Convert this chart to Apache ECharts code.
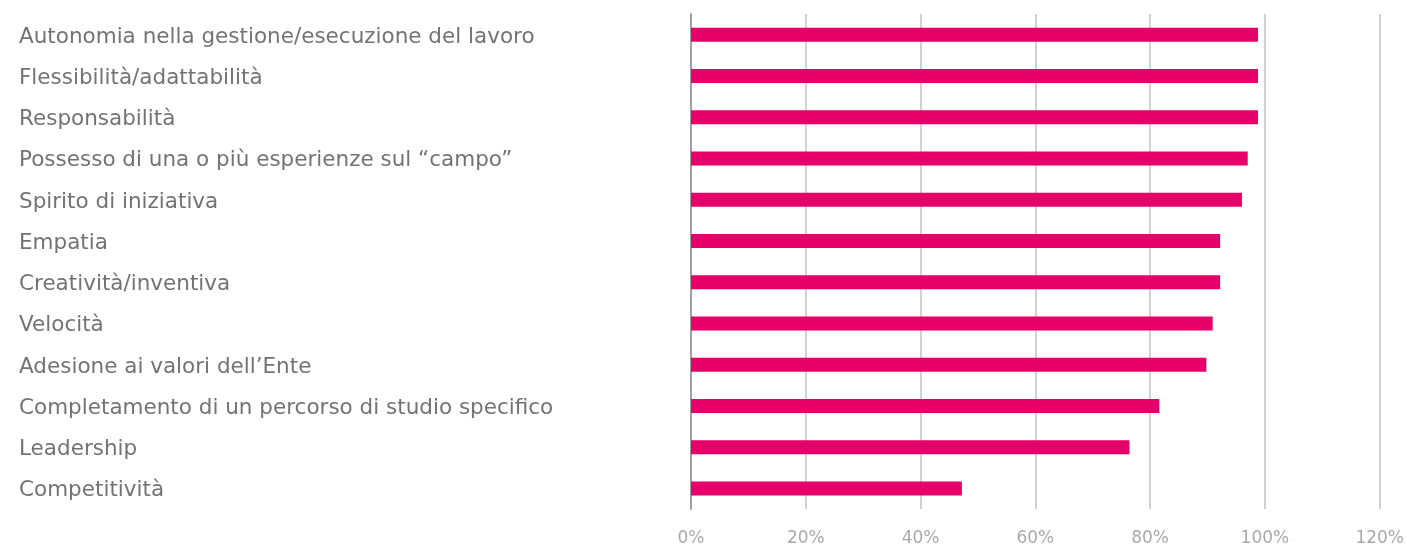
<!DOCTYPE html>
<html>
<head>
<meta charset="utf-8">
<script src="https://cdn.jsdelivr.net/npm/echarts@6/dist/echarts.min.js"></script>
<style>
html,body{margin:0;padding:0;background:#fff;}
#chart{width:1407px;height:547px;}
</style>
</head>
<body>
<div id="chart"></div>
<script>
var categories = [
  "Autonomia nella gestione/esecuzione del lavoro",
  "Flessibilità/adattabilità",
  "Responsabilità",
  "Possesso di una o più esperienze sul “campo”",
  "Spirito di iniziativa",
  "Empatia",
  "Creatività/inventiva",
  "Velocità",
  "Adesione ai valori dell’Ente",
  "Completamento di un percorso di studio specifico",
  "Leadership",
  "Competitività"
];
var values = [98.8, 98.8, 98.8, 97.0, 96.0, 92.2, 92.2, 90.9, 89.8, 81.6, 76.4, 47.2];
var xTicks = [0, 20, 40, 60, 80, 100, 120];

var chart = echarts.init(document.getElementById('chart'));
chart.setOption({
  animation: false,
  grid: {left: 691, right: 26, top: 14, bottom: 36, containLabel: false},
  xAxis: {
    type: 'value', min: 0, max: 120, interval: 20,
    axisLine: {show: false}, axisTick: {show: false},
    splitLine: {show: true, lineStyle: {color: '#d2d2d2', width: 2}},
    axisLabel: {
      formatter: function (v) { return xTicks.indexOf(v) >= 0 ? v + '%' : ''; },
      color: '#a9a9a9', fontSize: 17, fontFamily: 'DejaVu Sans', margin: 21
    }
  },
  yAxis: {
    type: 'category', inverse: true, data: categories,
    axisLine: {show: true, lineStyle: {color: '#a0a0a0', width: 2}},
    axisTick: {show: false},
    axisLabel: {
      align: 'left', margin: 672,
      formatter: function (v) { return '{t|' + v + '}'; },
      rich: {
        t: {color: '#737373', fontSize: 21.5, fontFamily: 'DejaVu Sans', padding: [5, 0, 0, 0]}
      }
    }
  },
  series: [{
    type: 'bar', data: values, barWidth: 14,
    itemStyle: {color: '#e6006a'}
  }]
});
</script>
</body>
</html>
